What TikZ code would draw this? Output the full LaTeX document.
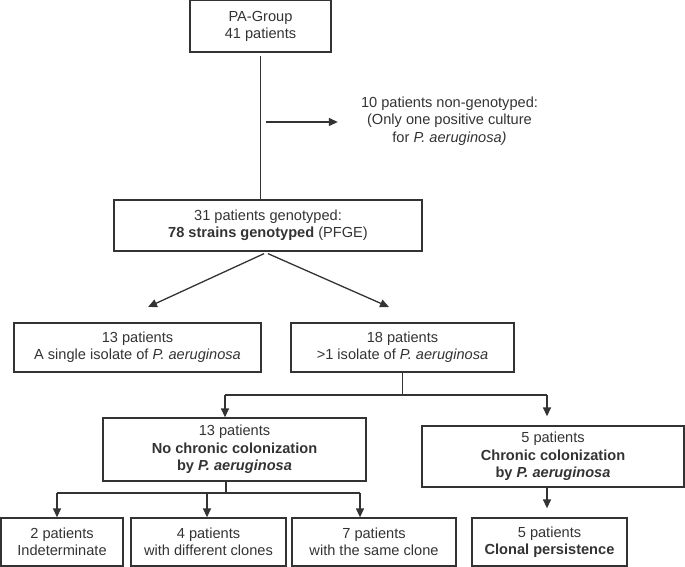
\documentclass[tikz,border=0pt]{standalone}
\usepackage{fontspec}
\setmainfont{Liberation Sans}
\usetikzlibrary{arrows.meta}
\definecolor{ink}{HTML}{333333}

\begin{document}
\begin{tikzpicture}[x=1pt, y=-1pt,
	box/.style={draw=ink, line width=1.3pt, align=center, inner sep=0pt, text=ink},
	line/.style={draw=ink, line width=1.3pt},
	tip/.style={line, -{Triangle[length=9pt, width=8pt]}}]

\def\width{685}
\def\height{567}

\fontsize{14.6}{17.3}\selectfont
\path [use as bounding box] (0,0) rectangle (\width,\height);

% BOXES
\node [box, minimum width=141pt, minimum height=51.2pt] (pa) at (260.5,26.4) {PA-Group\\41 patients};
\node [align=center, text=ink, inner xsep=23pt] (nongeno) at (449.5,121) {10 patients non-genotyped:\\(Only one positive culture\\for \textit{P. aeruginosa)}};
\node [box, minimum width=308pt, minimum height=51pt] (geno) at (268,225.5) {31 patients genotyped:\\\textbf{78 strains genotyped} (PFGE)};
\node [box, minimum width=247pt, minimum height=49pt] (single) at (137.5,347.5) {13 patients\\A single isolate of \textit{P. aeruginosa}};
\node [box, minimum width=223pt, minimum height=49pt] (multi) at (402.5,347.5) {18 patients\\>1 isolate of \textit{P. aeruginosa}};
\node [box, minimum width=263pt, minimum height=63pt] (nochronic) at (234.5,449.5) {13 patients\\\textbf{No chronic colonization}\\\textbf{by \textit{P. aeruginosa}}};
\node [box, minimum width=262pt, minimum height=61pt] (chronic) at (553,456.5) {5 patients\\\textbf{Chronic colonization}\\\textbf{by \textit{P. aeruginosa}}};
\node [box, minimum width=122pt, minimum height=48pt] (indet) at (62,542) {2 patients\\Indeterminate};
\node [box, minimum width=155pt, minimum height=48pt] (diff) at (208.5,542) {4 patients\\with different clones};
\node [box, minimum width=164pt, minimum height=48pt] (same) at (374,542) {7 patients\\with the same clone};
\node [box, minimum width=155pt, minimum height=48pt] (clonal) at (549.5,542) {5 patients\\\textbf{Clonal persistence}};

% JUNCTIONS
\coordinate (side) at (266,122);
\coordinate (tipA) at (148,307);
\coordinate (tipB) at (389,307);
\coordinate (busL) at (225,395);
\coordinate (busR) at (547,395);
\coordinate (busA) at (57,493);
\coordinate (busB) at (207,493);
\coordinate (busC) at (360,493);

% CONNECTORS
\draw [line] ([yshift=-3pt]pa.south) -- (pa.south |- geno.north);
\draw [tip] (side) -- (side -| nongeno.west);
\draw [tip] ([xshift=-4pt,yshift=-2pt]geno.south) -- (tipA);
\draw [tip] ([yshift=-2pt]geno.south) -- (tipB);
\draw [line] (multi.south) -- (multi.south |- busL);
\draw [line] (busL) -- (busR);
\draw [tip] (busL) -- (busL |- nochronic.north);
\draw [tip] (busR) -- ([yshift=9pt]busR |- chronic.north);
\draw [tip] (busR |- chronic.south) -- ([yshift=9pt]busR |- clonal.north);
\draw [line] (nochronic.south -| 226,0) -- (226,493);
\draw [line] (busA) -- (busC);
\draw [tip] (busA) -- (busA |- indet.north);
\draw [tip] (busB) -- (busB |- diff.north);
\draw [tip] (busC) -- (busC |- same.north);

\end{tikzpicture}
\end{document}
